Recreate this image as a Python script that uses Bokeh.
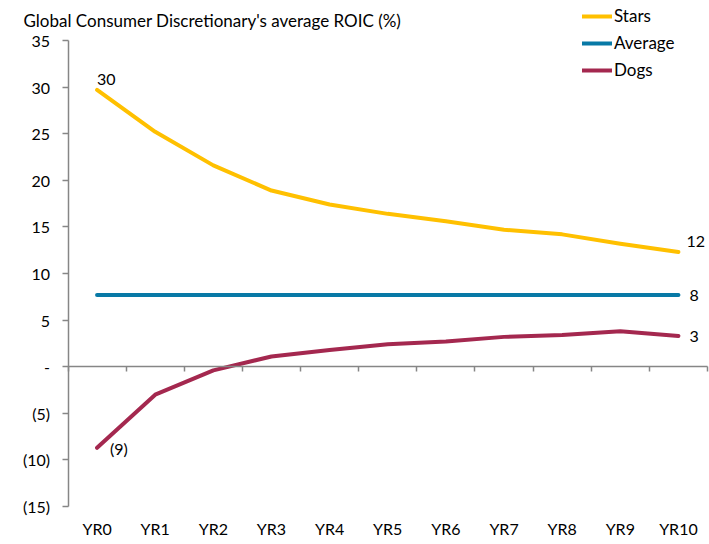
from bokeh.plotting import figure
from bokeh.models import (Range1d, LinearAxis, FixedTicker, Legend, LegendItem,
                          ColumnDataSource, Label)
from bokeh.core.properties import value
from bokeh.embed import file_html
from bokeh.resources import INLINE

# ---- data ----
years = ["YR0", "YR1", "YR2", "YR3", "YR4", "YR5", "YR6", "YR7", "YR8", "YR9", "YR10"]
stars = [29.7, 25.2, 21.6, 18.9, 17.4, 16.4, 15.6, 14.7, 14.2, 13.2, 12.3]
average = [7.7, 7.7, 7.7, 7.7, 7.7, 7.7, 7.7, 7.7, 7.7, 7.7, 7.7]
dogs = [-8.7, -3.0, -0.4, 1.1, 1.8, 2.4, 2.7, 3.2, 3.4, 3.8, 3.3]
y_ticks = [-15, -10, -5, 0, 5, 10, 15, 20, 25, 30, 35]
title_text = "Global Consumer Discretionary's average ROIC (%)"
series_names = ["Stars", "Average", "Dogs"]

# ---- layout (pixels) ----
W, H = 709, 544
AX_L, AX_R = 67.5, 707      # plot area left / right in pixels
AX_T, AX_B = 40, 506        # plot area top / bottom in pixels

# ---- style ----
FONT = "Lato"
FS = "16px"
FS_BIG = "17px"
COLORS = {"Stars": "#FFC000", "Average": "#0879A6", "Dogs": "#A4284F"}
AXIS_COLOR = "#868686"
TEXT_COLOR = "#000000"


def fmt(v):
    r = int(round(v))
    if r == 0:
        return "-"
    return f"({abs(r)})" if r < 0 else str(r)


n = len(years)
xs = [i + 0.5 for i in range(n)]
y_lo, y_hi = y_ticks[0], y_ticks[-1]

# ranges chosen so the frame covers the whole canvas
xu = n / (AX_R - AX_L)
yu = (y_hi - y_lo) / (AX_B - AX_T)
x_range = Range1d(0 - AX_L * xu, n + (W - AX_R) * xu)
y_range = Range1d(y_lo - (H - AX_B) * yu, y_hi + AX_T * yu)

p = figure(width=W, height=H, output_backend="svg", toolbar_location=None,
           x_range=x_range, y_range=y_range,
           x_axis_type=None, y_axis_type=None,
           min_border_left=0, min_border_right=0, min_border_top=0, min_border_bottom=0)
p.outline_line_color = None
p.background_fill_color = "white"
p.border_fill_color = "white"

# title
p.add_layout(Label(x=23, y=H - 20, x_units="screen", y_units="screen",
                   text=title_text, text_font=FONT, text_font_size=FS_BIG,
                   text_color=TEXT_COLOR, text_baseline="middle", text_align="left"))

# y axis
yax = LinearAxis(ticker=FixedTicker(ticks=y_ticks), fixed_location=0,
                 bounds=(y_lo, y_hi),
                 major_label_overrides={v: fmt(v) for v in y_ticks})
yax.major_tick_out = 6
yax.major_tick_in = 0
yax.minor_tick_line_color = None
yax.axis_line_color = AXIS_COLOR
yax.major_tick_line_color = AXIS_COLOR
yax.axis_line_width = 1.5
yax.major_tick_line_width = 1.5
yax.major_label_standoff = 12
yax.major_label_text_font = FONT
yax.major_label_text_font_size = FS
yax.major_label_text_color = TEXT_COLOR
p.add_layout(yax, "left")

# x axis line at zero with boundary ticks
xline = LinearAxis(ticker=FixedTicker(ticks=list(range(n + 1))),
                   fixed_location=0, bounds=(0, n))
xline.major_tick_out = 5
xline.major_tick_in = 0
xline.minor_tick_line_color = None
xline.axis_line_color = AXIS_COLOR
xline.major_tick_line_color = AXIS_COLOR
xline.axis_line_width = 1.5
xline.major_tick_line_width = 1.5
xline.major_label_text_font_size = "0px"
xline.major_label_text_color = None
p.add_layout(xline, "below")

# x category labels at bottom
xlab = LinearAxis(ticker=FixedTicker(ticks=xs), fixed_location=y_lo,
                  major_label_overrides={x: y for x, y in zip(xs, years)})
xlab.axis_line_color = None
xlab.major_tick_line_color = None
xlab.minor_tick_line_color = None
xlab.major_tick_out = 0
xlab.major_label_standoff = 12
xlab.major_label_text_font = FONT
xlab.major_label_text_font_size = FS
xlab.major_label_text_color = TEXT_COLOR
p.add_layout(xlab, "below")

# lines
renderers = {}
for name, vals in zip(series_names, [stars, average, dogs]):
    renderers[name] = p.line(xs, vals, line_color=COLORS[name], line_width=4,
                             line_cap="round", line_join="round")

# data labels
lab_x = [xs[0], xs[0], xs[-1], xs[-1], xs[-1]]
lab_y = [stars[0], dogs[0], stars[-1], average[-1], dogs[-1]]
lab_dx = [0, 13, 8, 11, 11]
lab_dy = [-10, 1, -11, 1, 1]
src = ColumnDataSource(dict(x=lab_x, y=lab_y, text=[fmt(v) for v in lab_y],
                            dx=lab_dx, dy=lab_dy))
p.text(x="x", y="y", text="text", x_offset="dx", y_offset="dy", source=src,
       text_font=value(FONT), text_font_size=value(FS), text_color=TEXT_COLOR,
       text_align="left", text_baseline="middle")

# legend
legend = Legend(items=[LegendItem(label=nm, renderers=[renderers[nm]]) for nm in series_names],
                location=(582, H - 80), orientation="vertical")
legend.glyph_width = 30
legend.glyph_height = 20
legend.label_height = 20
legend.spacing = 6
legend.padding = 0
legend.margin = 0
legend.label_standoff = 2
legend.border_line_color = None
legend.background_fill_alpha = 0
legend.label_text_font = FONT
legend.label_text_font_size = FS_BIG
legend.label_text_color = TEXT_COLOR
p.add_layout(legend, "center")

open("out.html", "w").write(file_html(p, INLINE))
